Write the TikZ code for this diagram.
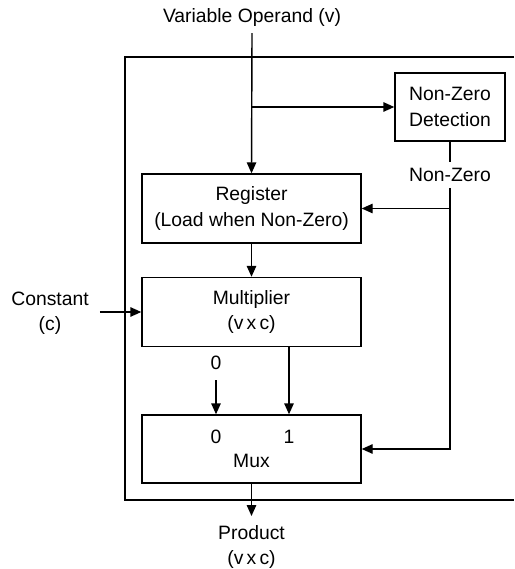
\documentclass[tikz,border=0pt]{standalone}
\usepackage{fontspec}
\setmainfont{Liberation Sans}
\usetikzlibrary{arrows.meta, positioning, calc}

\begin{document}
\begin{tikzpicture}[
    font=\fontsize{11}{14.5}\selectfont,
    blockbox/.style={draw, line width=0.8pt, minimum width=4.38cm,
                     minimum height=1.38cm, align=center},
    wire/.style={line width=0.8pt},
    arr/.style={wire, -{Triangle[length=2.2mm, width=1.9mm]}}
  ]
  \useasboundingbox (0,0) rectangle (10.28,-11.38);

  % outer frame (open at the right edge)
  \draw[wire] (10.28,-1.14) -- (2.5,-1.14) -- (2.5,-10.0) -- (10.28,-10.0);

  % blocks
  \node[blockbox] (reg) at (5.03,-4.17)
    {Register\\(Load when Non-Zero)};
  \node[blockbox] (mult) at (5.03,-6.24)
    {Multiplier\\(v\,x\,c)};
  \node[blockbox, minimum height=1.36cm] (mux) at (5.03,-8.98) {};
  \node (muxa) at (4.32,-8.74) {0};
  \node (muxb) at (5.78,-8.74) {1};
  \node (muxname) at (5.03,-9.22) {Mux};
  \node[draw, line width=0.8pt, minimum width=2.2cm, minimum height=1.36cm,
        align=center] (nzd) at (9.0,-2.14) {Non-Zero\\Detection};

  % labels
  \node (var) at (5.04,-0.36) {Variable Operand (v)};
  \node (nzlbl) at (9.0,-3.5) {Non-Zero};
  \node[align=center] (const) at (1.0,-6.26) {Constant\\(c)};
  \node (zero) at (4.32,-7.26) {0};
  \node[align=center] (prod) at (5.03,-10.94) {Product\\(v\,x\,c)};
  \coordinate (prodtip) at (5.03,-10.32);

  % connectors
  \draw[arr] (var.south) -- (reg.north);
  \draw[arr] (reg.north |- nzd.west) -- (nzd.west);
  \draw[wire] (nzd.south) -- (nzlbl.north);
  \draw[arr] (nzlbl.south) |- (mux.east);
  \draw[arr] (nzlbl.south |- reg.east) -- (reg.east);
  \draw[arr] (reg.south) -- (mult.north);
  \draw[arr] (const.east |- mult.west) ++(0.1,0) -- (mult.west);
  \draw[arr] (zero.south) ++(0,-0.08) -- (muxa |- mux.north);
  \draw[arr] (muxb |- mult.south) -- (muxb |- mux.north);
  \draw[arr] (mux.south) -- (prodtip);
\end{tikzpicture}
\end{document}
